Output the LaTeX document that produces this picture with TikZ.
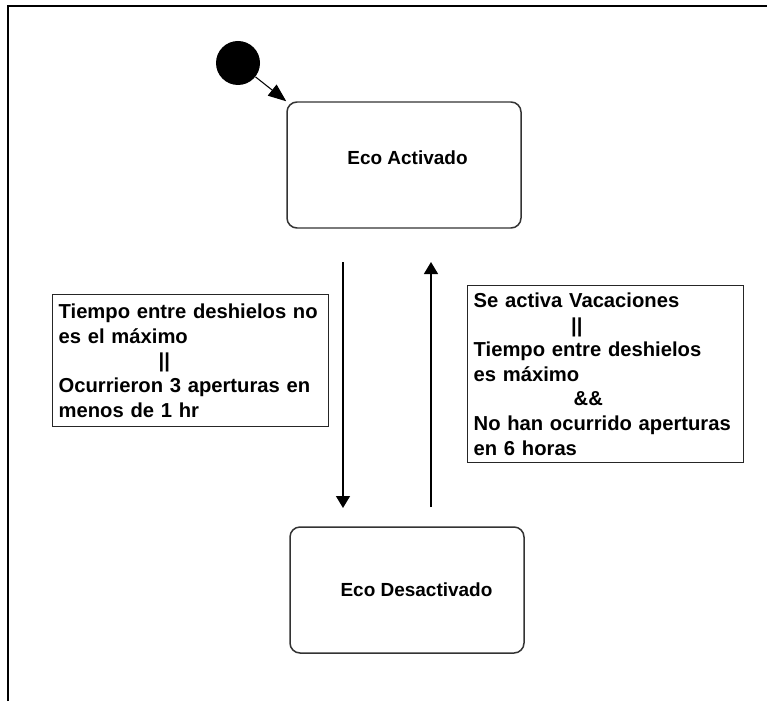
\documentclass[tikz,border=0pt]{standalone}
\usepackage{fontspec}
\setmainfont{Liberation Sans}
\usetikzlibrary{arrows.meta,positioning}
\begin{document}
\begin{tikzpicture}[x=1cm,y=1cm,font=\bfseries\fontsize{11.5}{14}\selectfont,
state/.style={draw=black!80,line width=.85pt,rounded corners=.2cm,minimum width=4.68cm,minimum height=2.52cm},
statename/.style={font=\bfseries\fontsize{10.8}{13}\selectfont},
guard/.style={draw=black!85,line width=.75pt,align=left,text width=5.28cm,inner sep=.12cm,anchor=north west},
trans/.style={-{Triangle[length=.24cm,width=.28cm]},line width=.8pt},
initarr/.style={-{Triangle[length=.36cm,width=.28cm]},line width=.6pt}]
\useasboundingbox(0,0)rectangle(15.34,14.02);
\draw[line width=1.7pt](.16,0)--(.16,13.9)--(15.34,13.9);
\node[circle,fill=black,minimum size=.88cm,inner sep=0](start)at(4.76,12.76){};
\node[state](act)at(8.08,10.72){};
\node[statename]at([shift={(.07,.15)}]act.center){Eco Activado};
\node[state](desact)at(8.14,2.22){};
\node[statename]at([shift={(.19,.01)}]desact.center){Eco Desactivado};
\draw[initarr](start)--(act.north west);
\coordinate(d1)at(6.86,8.78);
\coordinate(d2)at(6.86,3.86);
\coordinate(u1)at(8.62,3.88);
\coordinate(u2)at(8.62,8.78);
\draw[trans](d1)--(d2);
\draw[trans](u1)--(u2);
\node[guard,minimum height=2.64cm](toOff)at(1.04,8.14){Tiempo entre deshielos no\\es el máximo\\\hspace*{2cm}||\\Ocurrieron 3 aperturas en\\menos de 1 hr};
\node[guard,minimum height=3.54cm](toOn)at(9.34,8.32){Se activa Vacaciones\\\hspace*{1.95cm}||\\Tiempo entre deshielos\\es máximo\\\hspace*{2cm}\&\&\\No han ocurrido aperturas\\en 6 horas};
\end{tikzpicture}
\end{document}
